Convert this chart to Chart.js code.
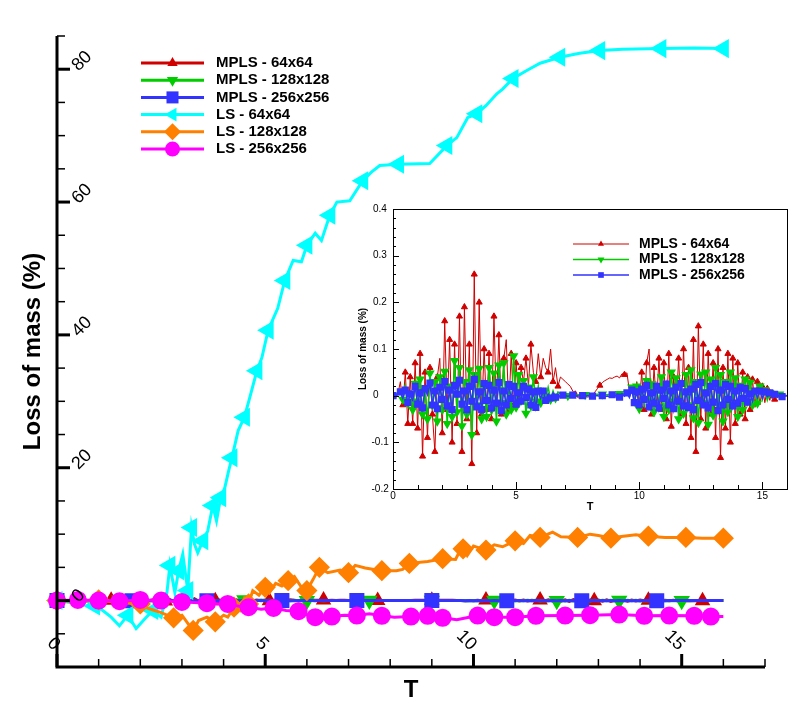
<!DOCTYPE html>
<html>
<head>
<meta charset="utf-8">
<script src="https://cdn.jsdelivr.net/npm/chart.js@4.4.1/dist/chart.umd.min.js"></script>
<style>
body { margin: 0; background: #fff; }
#wrap { position: relative; width: 807px; height: 717px; }
#main { position: absolute; left: 0; top: 0; }
#inset { position: absolute; left: 354px; top: 203px; }
</style>
</head>
<body>
<div id="wrap">
<canvas id="main" width="807" height="717"></canvas>
<canvas id="inset" width="440" height="312"></canvas>
</div>
<script>
// loss of mass (%) for the MPLS runs, one value every 0.1 in T, T = 0 .. 16
var mpls64 = [
  0, 0, 0.004, 0.03, -0.02, 0.05, -0.06, 0.04, -0.06, 0.07,
  -0.07, 0.09, -0.13, 0.05, -0.09, 0.06, -0.04, -0.12, 0.04, 0.08,
  -0.08, 0.16, -0.03, 0.12, -0.1, 0.11, -0.06, 0.17, -0.12, 0.19,
  -0.05, 0.11, -0.146, 0.26, -0.08, 0.2, -0.04, 0.1, -0.03, 0.09,
  -0.05, 0.17, -0.02, 0.13, -0.04, 0.08, 0.12, -0.03, 0.09, -0.02,
  0.07, -0.01, 0.06, 0.03, 0.08, 0.02, 0.11, 0.05, 0.03, 0.09,
  0.04, 0.08, 0.06, 0.05, 0.1, 0.03, 0.06, 0.02, 0.04, 0.035,
  0.03, 0.025, 0.02, 0.01, 0.003, -0.004, -0.006, -0.005, 0, -0.003,
  -0.002, 0.002, 0.008, 0.015, 0.022, 0.028, 0.032, 0.035, 0.038, 0.037,
  0.04, 0.042, 0.038, 0.047, 0.045, 0.049, 0.01, 0.02, -0.01, 0.03,
  -0.02, 0.05, -0.03, 0.07, 0.1, -0.04, 0.06, -0.02, 0.08, -0.03,
  0.07, -0.05, 0.09, -0.066, 0.04, -0.02, 0.08, -0.04, 0.1, -0.06,
  0.06, -0.09, 0.12, -0.12, 0.149, -0.05, 0.11, -0.07, 0.09, -0.04,
  0.07, -0.09, 0.1, -0.133, 0.06, -0.07, 0.09, -0.1, 0.08, -0.06,
  0.07, -0.04, 0.05, -0.05, 0.04, -0.03, 0.035, -0.025, 0.03, -0.02,
  0.02, -0.015, 0.015, -0.01, 0.01, -0.008, 0.006, -0.005, 0.003, -0.002,
  0
];
var mpls128 = [
  0, 0, 0.003, 0.012, -0.008, 0.02, -0.015, 0.005, -0.03, 0.026,
  -0.012, 0.035, -0.04, 0.01, -0.05, 0.048, -0.02, 0.03, -0.055, 0.04,
  -0.03, 0.052, -0.06, 0.02, -0.045, 0.075, -0.035, 0.06, -0.065, 0.03,
  -0.04, 0.055, -0.084, 0.045, -0.02, 0.058, -0.05, 0.02, -0.045, 0.06,
  -0.03, 0.048, -0.055, 0.065, -0.015, 0.07, -0.04, 0.02, -0.03, 0.085,
  -0.025, 0.045, -0.01, 0.032, -0.038, 0.018, -0.022, 0.04, -0.012, 0.02,
  -0.015, 0.012, -0.004, 0.018, -0.008, 0.01, -0.005, 0.008, 0.004, 0.003,
  0.002, 0, 0.002, 0, 0.001, 0.002, 0.002, 0.001, 0.002, 0.002,
  0.003, 0.002, 0.003, 0.003, 0.002, 0.003, 0.003, 0.002, 0.003, 0.003,
  0.004, 0.003, 0.004, 0.005, 0.003, 0.005, 0.004, 0.018, -0.015, 0.02,
  -0.028, 0.01, -0.018, 0.032, -0.01, 0.025, -0.035, 0.015, -0.022, 0.04,
  -0.045, 0.02, -0.03, 0.05, -0.012, 0.038, -0.05, 0.025, -0.038, 0.045,
  -0.02, 0.055, -0.048, 0.03, -0.058, 0.046, -0.015, 0.05, -0.062, 0.035,
  -0.042, 0.06, -0.02, 0.045, -0.055, 0.03, -0.035, 0.05, -0.018, 0.038,
  -0.045, 0.022, -0.03, 0.035, -0.012, 0.028, -0.02, 0.01, -0.016, 0.02,
  -0.008, 0.012, -0.01, 0.006, -0.004, 0.005, -0.003, 0.003, -0.002, 0.001,
  0
];
var mpls256 = [
  0, 0, 0.002, 0.008, -0.006, 0.012, -0.015, 0.004, -0.01, 0.02,
  -0.018, 0.006, -0.026, 0.015, 0.002, 0.027, -0.02, 0.01, -0.028, 0.018,
  -0.008, 0.03, -0.022, 0.012, -0.03, 0.022, 0.003, 0.033, -0.018, 0.01,
  -0.03, 0.02, -0.012, 0.035, -0.024, 0.008, -0.03, 0.026, -0.01, 0.022,
  -0.026, 0.012, -0.016, 0.028, -0.032, 0.01, -0.02, 0.024, -0.006, 0.02,
  -0.018, 0.006, -0.012, 0.02, -0.004, 0.014, -0.02, 0.008, -0.025, 0.01,
  -0.006, 0.01, -0.01, 0.004, -0.005, 0.006, -0.003, 0.002, -0.004, 0.001,
  0, -0.001, 0, 0.001, 0, -0.001, 0, 0, -0.001, 0,
  0, -0.001, 0, 0, -0.001, 0, -0.002, -0.001, -0.002, 0.002,
  -0.002, 0.003, -0.003, 0.004, -0.001, 0.006, -0.004, 0.012, -0.015, 0.008,
  -0.02, 0.014, -0.008, 0.022, -0.024, 0.006, -0.016, 0.02, -0.026, 0.012,
  -0.006, 0.025, -0.02, 0.01, -0.028, 0.018, -0.012, 0.026, -0.022, 0.008,
  -0.025, 0.014, -0.03, 0.024, -0.01, 0.028, -0.02, 0.006, -0.026, 0.02,
  -0.014, 0.026, -0.032, 0.012, -0.02, 0.024, -0.008, 0.02, -0.022, 0.01,
  -0.016, 0.018, -0.006, 0.015, -0.014, 0.004, -0.012, 0.01, -0.004, 0.01,
  -0.006, 0.008, -0.002, 0.006, -0.005, 0.003, -0.003, 0.002, -0.002, 0.001,
  0
];
var mplsT = mpls64.map(function (v, i) { return +(i * 0.1).toFixed(1); });

// level set runs
var ls64T = [0, 0.3, 0.6, 0.9, 1.1, 1.3, 1.5, 1.7, 1.9, 2.1, 2.3, 2.5, 2.64, 2.71, 2.83, 2.92, 3.02, 3.14, 3.23, 3.3,
  3.38, 3.5, 3.62, 3.74, 3.83, 3.93, 4.03, 4.12, 4.2, 4.35, 4.5, 4.63, 4.8, 4.92, 5.07, 5.3, 5.47, 5.67, 5.87, 6.0,
  6.2, 6.35, 6.55, 6.72, 7.03, 7.34, 7.55, 7.75, 8.2, 8.95, 9.36, 9.6, 9.86, 10.08, 10.3, 10.56, 10.7, 10.95, 11.28, 11.6,
  12.07, 12.55, 13.03, 13.58, 14.5, 15.3, 16.0];
var ls64 = [0, -0.3, 0.5, -0.8, -1.5, -2.5, -3.8, -2.2, -4.2, -2.8, -1.5, -2.5, 1.2, 5.3, 1.2, 4.5, 7, 1.5, 11, 8.5,
  7.2, 9, 10.5, 14.3, 12, 15.5, 17, 19.5, 21.5, 25.6, 27.6, 30.6, 34.6, 36.6, 40.7, 44, 48.2, 51.2, 51, 53.5,
  55.3, 54.2, 58, 60, 60.2, 63.2, 64.5, 65.5, 65.7, 65.8, 68.5, 69.7, 72.7, 73.3, 74.5, 76.3, 77, 78.6, 79.8, 80.9,
  81.8, 82.4, 82.8, 83, 83.1, 83.2, 83.1];
var ls128T = [0, 0.5, 1.0, 1.5, 2.0, 2.2, 2.5, 2.8, 3.0, 3.15, 3.27, 3.4, 3.6, 3.8, 4.0, 4.1, 4.25, 4.4, 4.5, 4.6,
  4.7, 4.85, 5.0, 5.1, 5.25, 5.4, 5.55, 5.7, 5.85, 6.0, 6.15, 6.3, 6.5, 6.8, 7.0, 7.16, 7.4, 7.8, 8.15, 8.3,
  8.46, 8.9, 9.26, 9.57, 9.65, 9.75, 9.85, 10.0, 10.1, 10.3, 10.5, 10.7, 11.0, 11.2, 11.36, 11.6, 11.9, 12.1, 12.5, 12.8,
  13.0, 13.3, 13.5, 13.9, 14.2, 14.6, 15.1, 15.5, 16.0];
var ls128 = [0, -0.2, 0.1, -0.3, -0.5, -1.2, -1.8, -2.6, -2.2, -3.5, -4.5, -3.0, -2.5, -3.2, -2.2, -2.5, -1.0, -1.5, 0.3, -0.5,
  1.5, 0.8, 2.0, 1.2, 2.6, 2.2, 3.0, 3.6, 2.2, 1.5, 3.2, 5.0, 4.2, 4.6, 4.2, 5.3, 4.9, 4.5, 4.5, 4.7,
  5.6, 5.9, 6.3, 6.2, 7.2, 7.8, 6.8, 8.2, 8.0, 7.6, 8.4, 8.1, 9.0, 8.6, 9.8, 9.5, 10.3, 9.6, 9.5, 10.0,
  9.8, 9.4, 9.6, 9.9, 9.7, 9.5, 9.5, 9.4, 9.4];
var ls256T = [0, 0.5, 1.0, 1.5, 2.0, 2.5, 3.0, 3.3, 3.6, 3.9, 4.1, 4.4, 4.6, 4.9, 5.2, 5.5, 5.8, 6.05, 6.2, 6.36,
  6.6, 6.9, 7.2, 7.5, 7.8, 8.1, 8.5, 8.9, 9.26, 9.6, 10.1, 10.5, 11.0, 11.5, 12.2, 12.8, 13.5, 14.1, 14.7, 15.3,
  15.7, 16.0];
var ls256 = [0, 0.1, 0, -0.1, 0.1, 0, -0.2, -0.3, -0.4, -0.5, -0.5, -0.9, -1.0, -1.3, -1.1, -1.5, -1.6, -2.25, -2.5, -2.75,
  -2.4, -2.2, -2.25, -2.0, -2.3, -2.5, -2.4, -2.3, -2.6, -2.9, -2.25, -2.5, -2.5, -2.3, -2.25, -2.2, -2.1, -2.3, -2.25, -2.3,
  -2.4, -2.4];

var names = ['MPLS - 64x64', 'MPLS - 128x128', 'MPLS - 256x256', 'LS - 64x64', 'LS - 128x128', 'LS - 256x256'];
var mainXTicks = [0, 5, 10, 15];
var mainYTicks = [0, 20, 40, 60, 80];
var insetXTicks = [0, 5, 10, 15];
var insetYTicks = [-0.2, -0.1, 0, 0.1, 0.2, 0.3, 0.4];

var FONT = "'Liberation Sans', Arial, sans-serif";
var RED = '#d00000', GREEN = '#00cc00', BLUE = '#3333ff', CYAN = '#00ffff', ORANGE = '#ff8000', PINK = '#ff00ff';

function pts(xs, ys) {
  return ys.map(function (v, i) { return { x: xs[i], y: v }; });
}

// put a symbol every markGap pixels along the drawn curve (like the plotting package does)
var arcMarks = {
  id: 'arcMarks',
  afterLayout: function (chart) {
    var xs = chart.scales.x, ys = chart.scales.y;
    chart.$marks = chart.data.datasets.map(function (ds) {
      var acc = ds.markGap, px = null, py = null;
      return ds.data.map(function (p) {
        var x = xs.getPixelForValue(p.x), y = ys.getPixelForValue(p.y);
        if (px !== null) acc += Math.hypot(x - px, y - py);
        px = x; py = y;
        if (acc >= ds.markGap) { acc = 0; return true; }
        return false;
      });
    });
  }
};
function markRadius(ctx) {
  var m = ctx.chart.$marks;
  return m && m[ctx.datasetIndex] && m[ctx.datasetIndex][ctx.dataIndex] ? ctx.dataset.markR : 0;
}

function drawLegend(chart, o) {
  var ctx = chart.ctx;
  ctx.save();
  ctx.font = o.font;
  ctx.textBaseline = 'middle';
  ctx.textAlign = 'left';
  chart.data.datasets.forEach(function (ds, i) {
    var y = o.y + i * o.step;
    ctx.strokeStyle = ds.borderColor;
    ctx.lineWidth = ds.borderWidth;
    ctx.beginPath(); ctx.moveTo(o.x0, y); ctx.lineTo(o.x1, y); ctx.stroke();
    ctx.fillStyle = ds.borderColor;
    Chart.helpers.drawPoint(ctx, {
      pointStyle: ds.pointStyle, rotation: ds.pointRotation || 0, radius: ds.markR, borderWidth: 0
    }, (o.x0 + o.x1) / 2, y);
    ctx.fillStyle = '#000';
    ctx.fillText(ds.label, o.tx, y);
  });
  ctx.restore();
}

function seg(ctx, x0, y0, x1, y1) {
  ctx.beginPath(); ctx.moveTo(x0, y0); ctx.lineTo(x1, y1); ctx.stroke();
}

var mainAxes = {
  id: 'mainAxes',
  afterDatasetsDraw: function (chart) {
    var ctx = chart.ctx, a = chart.chartArea, xs = chart.scales.x, ys = chart.scales.y;
    var v, x, y;
    ctx.save();
    ctx.strokeStyle = '#000';
    ctx.fillStyle = '#000';
    ctx.lineWidth = 1.5;
    for (v = xs.min; v <= xs.max; v += 1) {
      x = xs.getPixelForValue(v);
      seg(ctx, x, a.bottom, x, a.bottom - 8);
    }
    for (v = ys.min; v <= ys.max; v += 5) {
      y = ys.getPixelForValue(v);
      seg(ctx, a.left, y, a.left + 8, y);
    }
    ctx.lineWidth = 3;
    mainXTicks.forEach(function (t) {
      var px = xs.getPixelForValue(t);
      seg(ctx, px, a.bottom, px, a.bottom - 13);
    });
    mainYTicks.forEach(function (t) {
      var py = ys.getPixelForValue(t);
      seg(ctx, a.left, py, a.left + 13, py);
    });
    ctx.beginPath();
    ctx.moveTo(a.left, a.top);
    ctx.lineTo(a.left, a.bottom);
    ctx.lineTo(a.right, a.bottom);
    ctx.stroke();

    ctx.font = '18px ' + FONT;
    ctx.textBaseline = 'middle';
    mainXTicks.forEach(function (t) {
      ctx.save();
      ctx.translate(xs.getPixelForValue(t), a.bottom - 19.5);
      ctx.rotate(Math.PI / 4);
      ctx.textAlign = 'right';
      ctx.fillText(String(t), 0, 0);
      ctx.restore();
    });
    mainYTicks.forEach(function (t) {
      ctx.save();
      ctx.translate(a.left + 18, ys.getPixelForValue(t) - 1);
      ctx.rotate(-Math.PI / 4);
      ctx.textAlign = 'left';
      ctx.fillText(String(t), 0, 0);
      ctx.restore();
    });

    ctx.font = 'bold 24px ' + FONT;
    ctx.textAlign = 'center';
    ctx.fillText('T', (a.left + a.right) / 2, 690);
    ctx.save();
    ctx.translate(33, (a.top + a.bottom) / 2);
    ctx.rotate(-Math.PI / 2);
    ctx.fillText('Loss of mass (%)', 0, 0);
    ctx.restore();
    ctx.restore();
  },
  afterDraw: function (chart) {
    drawLegend(chart, { x0: 141, x1: 204, tx: 216, y: 63, step: 17.2, font: 'bold 15px ' + FONT });
  }
};

var common = {
  responsive: false,
  animation: false,
  events: [],
  plugins: { legend: { display: false }, tooltip: { enabled: false } }
};

new Chart(document.getElementById('main'), {
  type: 'line',
  data: {
    datasets: [
      { label: names[0], data: pts(mplsT, mpls64), borderColor: RED, backgroundColor: RED,
        borderWidth: 3, pointStyle: 'triangle', markR: 6, markGap: 54, order: 5 },
      { label: names[1], data: pts(mplsT, mpls128), borderColor: GREEN, backgroundColor: GREEN,
        borderWidth: 3, pointStyle: 'triangle', pointRotation: 180, markR: 6.5, markGap: 62, order: 4 },
      { label: names[2], data: pts(mplsT, mpls256), borderColor: BLUE, backgroundColor: BLUE,
        borderWidth: 3, pointStyle: 'rect', markR: 8.5, markGap: 71, order: 3 },
      { label: names[3], data: pts(ls64T, ls64), borderColor: CYAN, backgroundColor: CYAN,
        borderWidth: 3, pointStyle: 'triangle', pointRotation: 270, markR: 8, markGap: 36, order: 2 },
      { label: names[4], data: pts(ls128T, ls128), borderColor: ORANGE, backgroundColor: ORANGE,
        borderWidth: 3, pointStyle: 'rectRot', markR: 8.5, markGap: 26, order: 1 },
      { label: names[5], data: pts(ls256T, ls256), borderColor: PINK, backgroundColor: PINK,
        borderWidth: 3, pointStyle: 'circle', markR: 7.5, markGap: 15, order: 0 }
    ]
  },
  options: Object.assign({}, common, {
    layout: { padding: { left: 57, right: 42, top: 36, bottom: 50 } },
    datasets: { line: { clip: false } },
    elements: {
      line: { tension: 0 },
      point: { radius: markRadius, hoverRadius: 0, hitRadius: 0, borderWidth: 0,
        backgroundColor: function (c) { return c.dataset.borderColor; } }
    },
    scales: {
      x: { type: 'linear', min: 0, max: 17, display: false },
      y: { type: 'linear', min: -10, max: 85, display: false }
    }
  }),
  plugins: [arcMarks, mainAxes]
});

var insetAxes = {
  id: 'insetAxes',
  beforeDraw: function (chart) {
    var ctx = chart.ctx;
    ctx.save();
    ctx.fillStyle = '#fff';
    ctx.fillRect(0, 0, chart.width, chart.height);
    ctx.restore();
  },
  afterDatasetsDraw: function (chart) {
    var ctx = chart.ctx, a = chart.chartArea, xs = chart.scales.x, ys = chart.scales.y;
    var k, x, y;
    ctx.save();
    ctx.strokeStyle = '#000';
    ctx.fillStyle = '#000';
    ctx.lineWidth = 1;
    for (k = -10; k <= 20; k++) {
      y = Math.round(ys.getPixelForValue(k * 0.02)) + 0.5;
      seg(ctx, a.left, y, a.left + (k % 5 === 0 ? 6 : 3), y);
    }
    for (k = 0; k <= 16; k++) {
      x = Math.round(xs.getPixelForValue(k)) + 0.5;
      seg(ctx, x, a.bottom, x, a.bottom - (k % 5 === 0 ? 7 : 4));
    }
    ctx.strokeRect(Math.round(a.left) + 0.5, Math.round(a.top) + 0.5,
      Math.round(a.right - a.left), Math.round(a.bottom - a.top));

    ctx.font = '10px ' + FONT;
    ctx.textBaseline = 'middle';
    ctx.textAlign = 'left';
    insetYTicks.forEach(function (t) {
      ctx.fillText(String(t), a.left - 20 - (t < 0 ? 1.5 : 0), ys.getPixelForValue(t));
    });
    ctx.textAlign = 'center';
    insetXTicks.forEach(function (t) {
      ctx.fillText(String(t), xs.getPixelForValue(t), a.bottom + 7);
    });
    ctx.font = 'bold 11px ' + FONT;
    ctx.fillText('T', (a.left + a.right) / 2, a.bottom + 18);
    ctx.font = 'bold 10px ' + FONT;
    ctx.save();
    ctx.translate(a.left - 30, (a.top + a.bottom) / 2);
    ctx.rotate(-Math.PI / 2);
    ctx.fillText('Loss of mass (%)', 0, 0);
    ctx.restore();
    ctx.restore();
  },
  afterDraw: function (chart) {
    drawLegend(chart, { x0: 219, x1: 275, tx: 285, y: 41, step: 15.5, font: 'bold 14px ' + FONT });
  }
};

new Chart(document.getElementById('inset'), {
  type: 'line',
  data: {
    datasets: [
      { label: names[0], data: pts(mplsT, mpls64), borderColor: RED, backgroundColor: RED,
        borderWidth: 1, pointStyle: 'triangle', markR: 3.5, markGap: 30, order: 2 },
      { label: names[1], data: pts(mplsT, mpls128), borderColor: GREEN, backgroundColor: GREEN,
        borderWidth: 1.5, pointStyle: 'triangle', pointRotation: 180, markR: 4, markGap: 16, order: 1 },
      { label: names[2], data: pts(mplsT, mpls256), borderColor: BLUE, backgroundColor: BLUE,
        borderWidth: 1.5, pointStyle: 'rect', markR: 4, markGap: 8, order: 0 }
    ]
  },
  options: Object.assign({}, common, {
    layout: { padding: { left: 39, right: 7, top: 6, bottom: 26 } },
    elements: {
      line: { tension: 0 },
      point: { radius: markRadius, hoverRadius: 0, hitRadius: 0, borderWidth: 0,
        backgroundColor: function (c) { return c.dataset.borderColor; } }
    },
    scales: {
      x: { type: 'linear', min: 0, max: 16, display: false },
      y: { type: 'linear', min: -0.2, max: 0.4, display: false }
    }
  }),
  plugins: [arcMarks, insetAxes]
});
</script>
</body>
</html>
